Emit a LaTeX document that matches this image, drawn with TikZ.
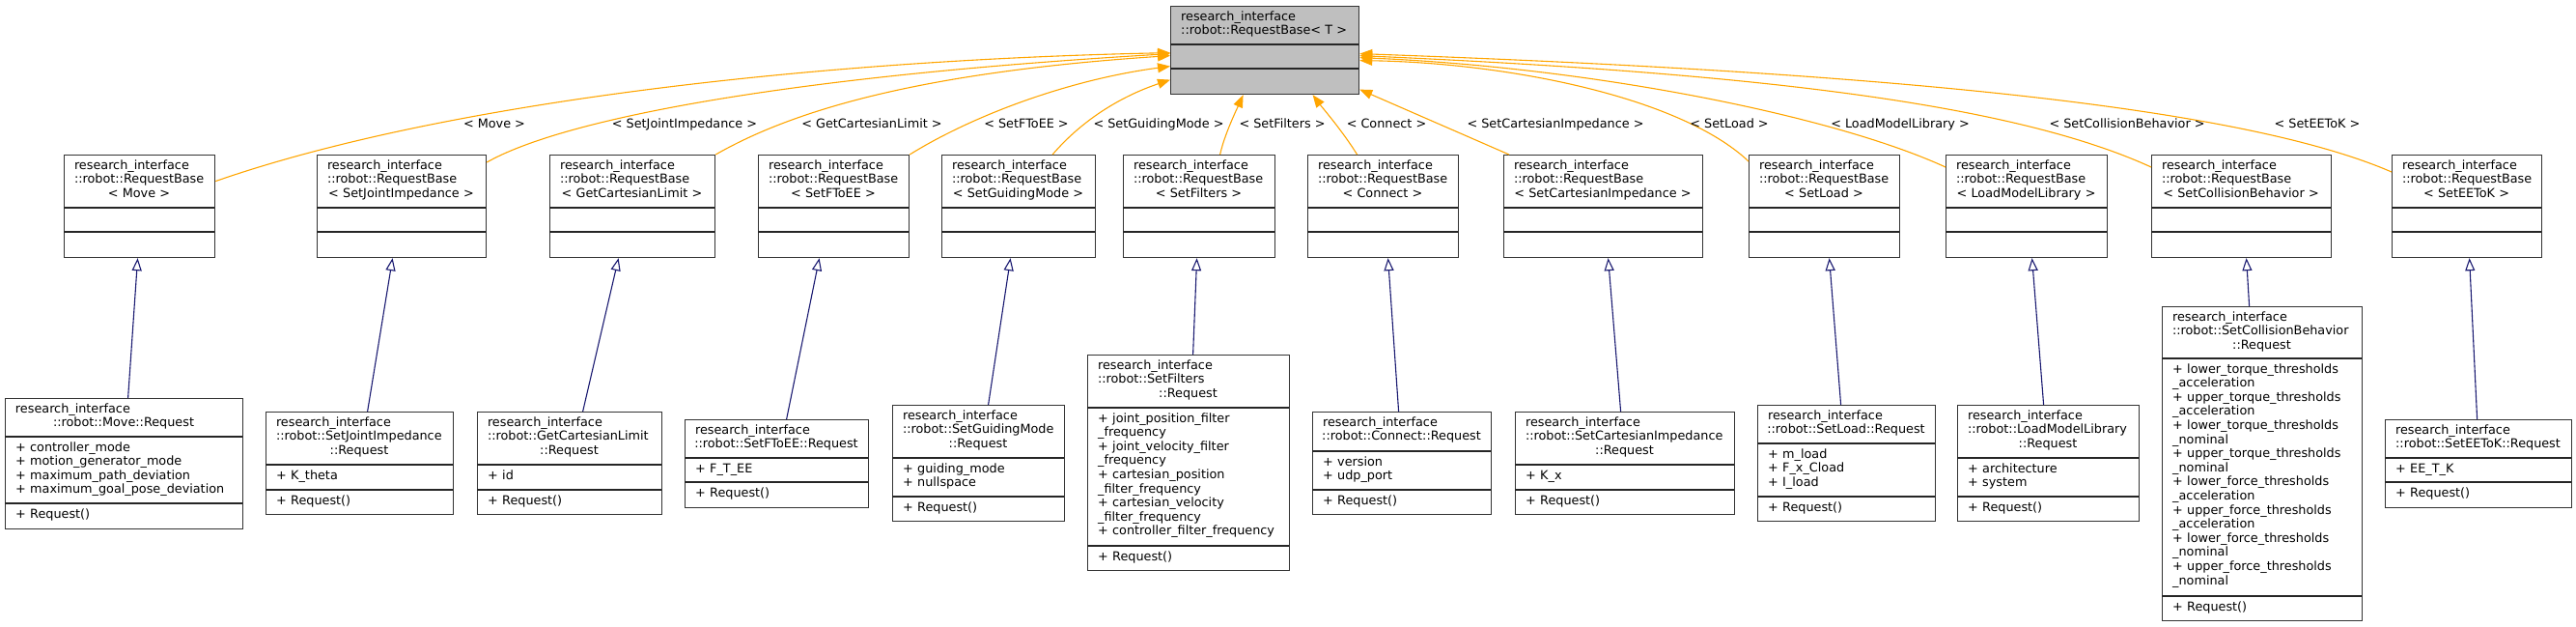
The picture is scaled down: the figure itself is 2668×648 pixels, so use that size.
\documentclass[tikz,border=0pt]{standalone}
\usepackage{fontspec}
\setmainfont{DejaVu Sans}
\usetikzlibrary{arrows.meta}

\definecolor{edgeorange}{RGB}{255,165,0}
\definecolor{edgeblue}{RGB}{25,25,112}
\definecolor{basegray}{RGB}{191,191,191}

\newcommand{\umlfont}{\fontsize{12.8}{14.6}\selectfont}
\newcommand{\lft}[1]{\makebox[\linewidth][l]{#1}}
\newcommand{\ctr}[1]{\makebox[\linewidth][c]{#1}}

\tikzset{
  classbox/.style={draw=black!80, line width=1.2pt, fill=white, anchor=north west, inner sep=0pt},
  divider/.style={draw=black!85, line width=1.2pt},
  txt/.style={font=\umlfont, anchor=base, inner sep=0pt},
  lbl/.style={font=\umlfont, anchor=base, inner sep=0pt},
  realize/.style={draw=edgeblue, line width=1.1pt, -{Triangle[open, length=13pt, width=10pt]}},
  tmplarrow/.style={draw=edgeorange, line width=1.1pt, -{Triangle[length=13pt, width=10pt]}},
}

% template instance: name, left, right, argument
\newcommand{\tmplbox}[4]{%
  \node[classbox, minimum width={#3-#2}, minimum height=106] (#1) at (#2,160) {};
  \draw[divider] (#2,215) -- (#3,215) (#2,240) -- (#3,240);
  \node[txt, text width={#3-#2-22}, align=center] (#1-name) at ({(#2+#3)/2},175)
    {\lft{research\_interface}\\\lft{::robot::RequestBase}\\\ctr{< #4{} >}};
}

% request struct: name, left, top, right, header bottom, attribute bottom, bottom, title, attributes
\newcommand{\reqbox}[9]{%
  \node[classbox, minimum width={#4-#2}, minimum height={#7-#3}] (#1) at (#2,#3) {};
  \draw[divider] (#2,#5) -- (#4,#5) (#2,#6) -- (#4,#6);
  \node[txt, text width={#4-#2-22}, align=center] (#1-name) at ({(#2+#4)/2},#3+15) {#8};
  \node[txt, anchor=base west, text width={#4-#2-11}, align=left] (#1-attr) at (#2+11,#5+15) {#9};
  \node[txt, anchor=base west, text width={#4-#2-11}, align=left] (#1-op) at (#2+11,#6+15) {+ Request()};
}

\begin{document}
\begin{tikzpicture}[x=1pt, y=-1pt]

    \useasboundingbox (0,0) rectangle (2668,648);

    % Base class
    \node[classbox, fill=basegray, minimum width=195, minimum height=91] (base) at (1212,6) {};
    \draw[divider] (1212,46) -- (1407,46) (1212,71) -- (1407,71);
    \node[txt, anchor=base west, text width=184, align=left] (base-name) at (1223,21)
        {research\_interface\\::robot::RequestBase< T >};

    % Template instances
    \foreach \nm/\xa/\xb/\kind in {moveT/66/222/Move, sjiT/328/503/SetJointImpedance,
        gclT/569/740/GetCartesianLimit, ftoeT/785/941/SetFToEE, sgmT/975/1134/SetGuidingMode,
        filtT/1163/1320/SetFilters, connT/1354/1510/Connect, sciT/1557/1763/SetCartesianImpedance,
        loadT/1811/1967/SetLoad, lmlT/2015/2182/LoadModelLibrary, scbT/2228/2414/SetCollisionBehavior,
        eekT/2477/2632/SetEEToK}
        \tmplbox{\nm}{\xa}{\xb}{\kind};

    % Request structs
    \reqbox{moveR}{5}{412}{251}{452}{521}{547}
        {\lft{research\_interface}\\\ctr{::robot::Move::Request}}
        {+ controller\_mode\\+ motion\_generator\_mode\\+ maximum\_path\_deviation\\+ maximum\_goal\_pose\_deviation}
    \reqbox{sjiR}{275}{426}{469}{481}{507}{532}
        {\lft{research\_interface}\\\lft{::robot::SetJointImpedance}\\\ctr{::Request}}
        {+ K\_theta}
    \reqbox{gclR}{494}{426}{685}{481}{507}{532}
        {\lft{research\_interface}\\\lft{::robot::GetCartesianLimit}\\\ctr{::Request}}
        {+ id}
    \reqbox{ftoeR}{709}{434}{899}{474}{499}{525}
        {\lft{research\_interface}\\\ctr{::robot::SetFToEE::Request}}
        {+ F\_T\_EE}
    \reqbox{sgmR}{924}{419}{1102}{474}{514}{539}
        {\lft{research\_interface}\\\lft{::robot::SetGuidingMode}\\\ctr{::Request}}
        {+ guiding\_mode\\+ nullspace}
    \reqbox{filtR}{1126}{367}{1335}{422}{565}{590}
        {\lft{research\_interface}\\\lft{::robot::SetFilters}\\\ctr{::Request}}
        {+ joint\_position\_filter\\\_frequency\\+ joint\_velocity\_filter\\\_frequency\\+ cartesian\_position\\\_filter\_frequency\\+ cartesian\_velocity\\\_filter\_frequency\\+ controller\_filter\_frequency}
    \reqbox{connR}{1359}{426}{1544}{467}{507}{532}
        {\lft{research\_interface}\\\ctr{::robot::Connect::Request}}
        {+ version\\+ udp\_port}
    \reqbox{sciR}{1569}{426}{1796}{481}{507}{532}
        {\lft{research\_interface}\\\lft{::robot::SetCartesianImpedance}\\\ctr{::Request}}
        {+ K\_x}
    \reqbox{loadR}{1820}{419}{2004}{459}{514}{539}
        {\lft{research\_interface}\\\ctr{::robot::SetLoad::Request}}
        {+ m\_load\\+ F\_x\_Cload\\+ I\_load}
    \reqbox{lmlR}{2027}{419}{2215}{474}{514}{539}
        {\lft{research\_interface}\\\lft{::robot::LoadModelLibrary}\\\ctr{::Request}}
        {+ architecture\\+ system}
    \reqbox{scbR}{2239}{317}{2446}{371}{617}{642}
        {\lft{research\_interface}\\\lft{::robot::SetCollisionBehavior}\\\ctr{::Request}}
        {+ lower\_torque\_thresholds\\\_acceleration\\+ upper\_torque\_thresholds\\\_acceleration\\+ lower\_torque\_thresholds\\\_nominal\\+ upper\_torque\_thresholds\\\_nominal\\+ lower\_force\_thresholds\\\_acceleration\\+ upper\_force\_thresholds\\\_acceleration\\+ lower\_force\_thresholds\\\_nominal\\+ upper\_force\_thresholds\\\_nominal}
    \reqbox{eekR}{2470}{434}{2663}{474}{499}{525}
        {\lft{research\_interface}\\\ctr{::robot::SetEEToK::Request}}
        {+ EE\_T\_K}

    % Template bindings
    \draw[tmplarrow] ([yshift=26pt]moveT.east) .. controls (460,105) and (850,62) .. ([yshift=-2.5pt]base.west);
    \draw[tmplarrow] ([yshift=-8pt]sjiT.north east) .. controls (580,125) and (800,80) .. ([yshift=-3.5pt]base.west);
    \draw[tmplarrow] (gclT.north east) .. controls (820,115) and (950,75) .. ([yshift=-5.5pt]base.west);
    \draw[tmplarrow] (ftoeT.north east) .. controls (1010,118) and (1110,82) .. ([yshift=-16.5pt]base.west);
    \draw[tmplarrow] ([xshift=35pt]sgmT.north) .. controls (1120,125) and (1160,100) .. ([yshift=-30.5pt]base.west);
    \draw[tmplarrow] ([xshift=21.5pt]filtT.north) .. controls (1268,140) and (1280,115) .. ([xshift=-22.5pt]base.south);
    \draw[tmplarrow] ([xshift=-27pt]connT.north) .. controls (1390,135) and (1370,112) .. ([xshift=49.5pt]base.south);
    \draw[tmplarrow] ([xshift=6pt]sciT.north west) -- ([yshift=-40.5pt]base.east);
    \draw[tmplarrow] ([yshift=-7pt]loadT.north west) .. controls (1740,100) and (1560,65) .. ([yshift=-10.5pt]base.east);
    \draw[tmplarrow] ([yshift=-13pt]lmlT.north west) .. controls (1900,120) and (1650,70) .. ([yshift=-7.5pt]base.east);
    \draw[tmplarrow] ([yshift=-13pt]scbT.north west) .. controls (2080,105) and (1800,75) .. ([yshift=-5.5pt]base.east);
    \draw[tmplarrow] ([yshift=-18pt]eekT.north west) .. controls (2320,110) and (1950,75) .. ([yshift=-3.5pt]base.east);

    % Binding labels
    \foreach \kind/\xc in {Move/512, SetJointImpedance/709, GetCartesianLimit/903, SetFToEE/1063,
        SetGuidingMode/1200, SetFilters/1328, Connect/1436, SetCartesianImpedance/1611,
        SetLoad/1791, LoadModelLibrary/1968, SetCollisionBehavior/2203, SetEEToK/2400}
        \node[lbl] (lbl-\kind) at (\xc,132) {< \kind{} >};

    % Inheritance
    \foreach \req/\tmpl/\da/\db in {moveR/moveT/4/-2, sjiR/sjiT/8/-9.5, gclR/gclT/13.5/-14.5,
        ftoeR/ftoeT/10/-15, sgmR/sgmT/10/-8.5, filtR/filtT/4.5/-2.5, connR/connT/-3.5/5,
        sciR/sciT/-4.5/5, loadR/loadT/-6/5, lmlR/lmlT/-5/5.5, scbR/scbT/-13.5/5, eekR/eekT/-1.5/2.5}
        \draw[realize] ([xshift=\da pt]\req.north) -- ([xshift=\db pt]\tmpl.south);

\end{tikzpicture}
\end{document}
